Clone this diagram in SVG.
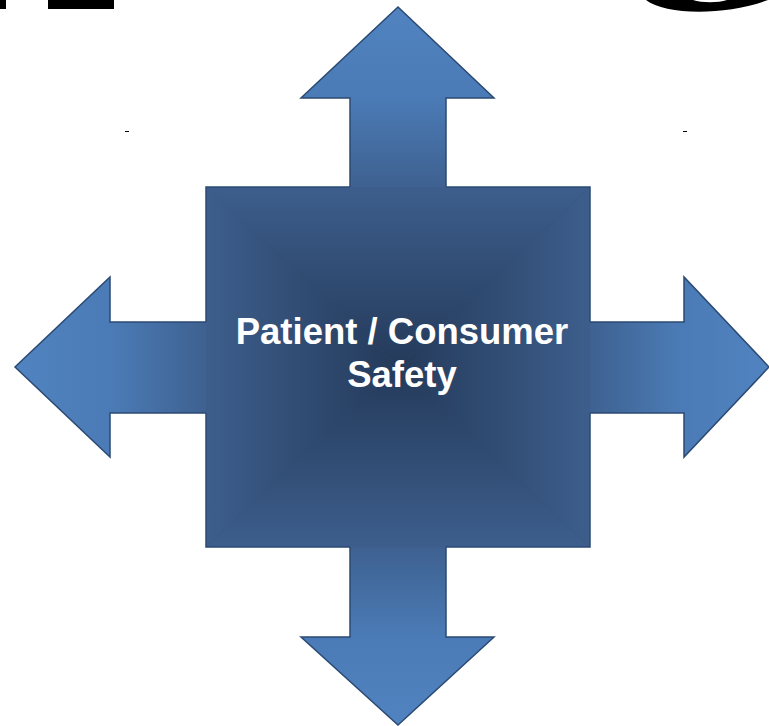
<svg xmlns="http://www.w3.org/2000/svg" width="769" height="726" viewBox="0 0 769 726">
<defs>
<style>
.edge{fill:none;stroke:#2b4a73;stroke-width:1.5;stroke-linejoin:miter}
.lbl{font-family:"Liberation Sans",Arial,sans-serif;font-weight:bold;font-size:36.5px;fill:#ffffff;text-anchor:middle}
.blk{fill:#000000}
</style>
<linearGradient id="gUp" gradientUnits="userSpaceOnUse" x1="0" y1="7" x2="0" y2="187"><stop offset="0" stop-color="#5083c0"/><stop offset="0.5" stop-color="#4b7bb6"/><stop offset="1" stop-color="#3e6190"/></linearGradient>
<linearGradient id="gDown" gradientUnits="userSpaceOnUse" x1="0" y1="725" x2="0" y2="547"><stop offset="0" stop-color="#5083c0"/><stop offset="0.5" stop-color="#4b7bb6"/><stop offset="1" stop-color="#3e6190"/></linearGradient>
<linearGradient id="gLeft" gradientUnits="userSpaceOnUse" x1="15" y1="0" x2="206" y2="0"><stop offset="0" stop-color="#5083c0"/><stop offset="0.5" stop-color="#4b7bb6"/><stop offset="1" stop-color="#3e6190"/></linearGradient>
<linearGradient id="gRight" gradientUnits="userSpaceOnUse" x1="769" y1="0" x2="590" y2="0"><stop offset="0" stop-color="#5083c0"/><stop offset="0.5" stop-color="#4b7bb6"/><stop offset="1" stop-color="#3e6190"/></linearGradient>
<linearGradient id="sTop" gradientUnits="userSpaceOnUse" x1="0" y1="187" x2="0" y2="367"><stop offset="0" stop-color="#3d5e8c"/><stop offset="1" stop-color="#243a5a"/></linearGradient>
<linearGradient id="sBot" gradientUnits="userSpaceOnUse" x1="0" y1="547" x2="0" y2="367"><stop offset="0" stop-color="#3d5e8c"/><stop offset="1" stop-color="#243a5a"/></linearGradient>
<linearGradient id="sLeft" gradientUnits="userSpaceOnUse" x1="206" y1="0" x2="398" y2="0"><stop offset="0" stop-color="#3d5e8c"/><stop offset="1" stop-color="#243a5a"/></linearGradient>
<linearGradient id="sRight" gradientUnits="userSpaceOnUse" x1="590" y1="0" x2="398" y2="0"><stop offset="0" stop-color="#3d5e8c"/><stop offset="1" stop-color="#243a5a"/></linearGradient>
</defs>
<rect width="769" height="726" fill="#ffffff"/>
<g id="background-marks">
<rect class="blk" x="0" y="0" width="6" height="9"/>
<rect class="blk" x="48" y="0" width="66" height="9"/>
<path class="blk" d="M646 0 C665 15 725 16 768 0 L727 0 C718 3 702 3 693 0 Z"/>
<rect class="blk" x="125" y="131" width="4" height="1"/>
<rect class="blk" x="683" y="131" width="4" height="1"/>
</g>
<g id="connectors">
<g id="arrow-up">
<polygon points="350,188 350,98 301,98 398,7 494,98 446,98 446,188" fill="url(#gUp)"/>
<polyline class="edge" points="350,187 350,98 301,98 398,7 494,98 446,98 446,187"/>
</g>
<g id="arrow-right">
<polygon points="589,322 684,322 684,277 769,367 684,457 684,413 589,413" fill="url(#gRight)"/>
<polyline class="edge" points="590,322 684,322 684,277 769,367 684,457 684,413 590,413"/>
</g>
<g id="arrow-down">
<polygon points="446,546 446,637 494,637 398,725 301,637 350,637 350,546" fill="url(#gDown)"/>
<polyline class="edge" points="446,547 446,637 494,637 398,725 301,637 350,637 350,547"/>
</g>
<g id="arrow-left">
<polygon points="207,413 110,413 110,457 15,367 110,277 110,322 207,322" fill="url(#gLeft)"/>
<polyline class="edge" points="206,413 110,413 110,457 15,367 110,277 110,322 206,322"/>
</g>
</g>
<g id="center-node">
<rect x="206" y="187" width="384" height="360" fill="#314c73"/>
<polygon points="206,187 590,187 398,367" fill="url(#sTop)"/>
<polygon points="590,187 590,547 398,367" fill="url(#sRight)"/>
<polygon points="590,547 206,547 398,367" fill="url(#sBot)"/>
<polygon points="206,547 206,187 398,367" fill="url(#sLeft)"/>
<polyline class="edge" points="206,322 206,187 350,187"/>
<polyline class="edge" points="446,187 590,187 590,322"/>
<polyline class="edge" points="590,413 590,547 446,547"/>
<polyline class="edge" points="350,547 206,547 206,413"/>
<text class="lbl" x="402" y="344">Patient / Consumer</text>
<text class="lbl" x="402" y="387">Safety</text>
</g>
</svg>
